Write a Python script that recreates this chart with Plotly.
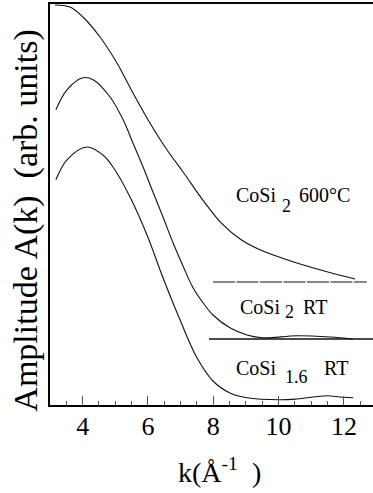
import plotly.graph_objects as go

# CoSi2 600°C
k_600 = [3.15, 3.61, 4.01, 4.53, 5.05, 5.54, 6.06, 6.58, 7.07, 7.72, 8.21, 8.82, 9.43, 10.44, 11.48, 12.34]
a_600 = [1.000, 0.995, 0.970, 0.920, 0.855, 0.780, 0.705, 0.638, 0.583, 0.508, 0.458, 0.415, 0.388, 0.358, 0.333, 0.315]

# CoSi2 RT
k_rt2 = [3.18, 3.52, 4.01, 4.32, 4.84, 5.24, 5.54, 5.85, 6.15, 6.46, 6.77, 7.07, 7.38, 7.69, 7.99, 8.51, 9.03, 9.52, 10.56, 11.57, 12.28]
a_rt2 = [0.738, 0.788, 0.818, 0.813, 0.770, 0.713, 0.655, 0.595, 0.533, 0.470, 0.405, 0.348, 0.293, 0.255, 0.225, 0.193, 0.175, 0.168, 0.173, 0.170, 0.165]

# CoSi1.6 RT
k_16 = [3.18, 3.52, 4.13, 4.62, 4.93, 5.45, 5.97, 6.46, 6.98, 7.50, 7.99, 8.51, 9.03, 10.04, 10.56, 11.48, 11.88, 12.28]
a_16 = [0.563, 0.613, 0.645, 0.625, 0.595, 0.520, 0.425, 0.318, 0.213, 0.118, 0.060, 0.030, 0.018, 0.013, 0.015, 0.023, 0.020, 0.018]

# baselines
base600_k = [7.99, 12.70]
base600_a = [0.3075, 0.3075]
baseRT_k = [7.87, 12.89]
baseRT_a = [0.165, 0.165]

x_ticks = [4, 6, 8, 10, 12]

FONT = "Liberation Serif, Times New Roman, serif"

fig = go.Figure()
for kx, ay in [(k_600, a_600), (k_rt2, a_rt2), (k_16, a_16)]:
    fig.add_trace(go.Scatter(x=kx, y=ay, mode="lines",
                             line=dict(color="#111", width=1.1, shape="spline", smoothing=1.0),
                             showlegend=False, hoverinfo="skip"))
fig.add_trace(go.Scatter(x=base600_k, y=base600_a, mode="lines",
                         line=dict(color="#111", width=1.2, dash="22px,1.5px"),
                         showlegend=False, hoverinfo="skip"))
fig.add_trace(go.Scatter(x=baseRT_k, y=baseRT_a, mode="lines",
                         line=dict(color="#111", width=1.4),
                         showlegend=False, hoverinfo="skip"))

# label pieces: (x, y, text, size)
label_parts = [
    (8.64, 0.525, "CoSi", 20), (10.04, 0.4975, "2", 18), (10.57, 0.525, "600°C", 20),
    (8.76, 0.245, "CoSi", 20), (10.12, 0.2325, "2", 18), (10.68, 0.245, "RT", 20),
    (8.64, 0.0925, "CoSi", 20), (10.13, 0.07, "1.6", 18), (11.33, 0.0925, "RT", 20),
]
for x, y, t, s in label_parts:
    fig.add_annotation(x=x, y=y, xref="x", yref="y", text=t, showarrow=False,
                       xanchor="left", yanchor="middle",
                       font=dict(family=FONT, size=s, color="#000"))

NB = "\u00a0"
fig.add_annotation(x=-0.077, y=0.46, xref="paper", yref="paper",
                   text="Amplitude A(k)" + NB + NB + "(arb." + NB + "units)",
                   textangle=-90, showarrow=False, xanchor="center", yanchor="middle",
                   font=dict(family=FONT, size=34, color="#000"))
fig.add_annotation(x=0.526, y=-0.163, xref="paper", yref="paper",
                   text="k(Å<sup>-1</sup>" + NB + NB + ")",
                   showarrow=False, xanchor="center", yanchor="middle",
                   font=dict(family=FONT, size=28, color="#000"))

fig.update_layout(
    width=373, height=493,
    margin=dict(l=50, r=0, t=4, b=88),
    paper_bgcolor="white", plot_bgcolor="white",
    xaxis=dict(range=[3, 12.89], tickvals=x_ticks, ticks="inside", ticklen=9, tickwidth=1.2,
               tickcolor="#555", showline=True, linecolor="#000", linewidth=2, mirror=True,
               showgrid=False, zeroline=False, ticklabelstandoff=-3,
               tickfont=dict(family=FONT, size=26, color="#000"),
               minor=dict(dtick=0.5, tick0=3, ticks="inside", ticklen=4, tickcolor="#555", tickwidth=1)),
    yaxis=dict(range=[0, 1.0025], showticklabels=False, ticks="", showline=True,
               linecolor="#000", linewidth=2, mirror=False, showgrid=False, zeroline=False),
)

fig.write_html("out.html")
